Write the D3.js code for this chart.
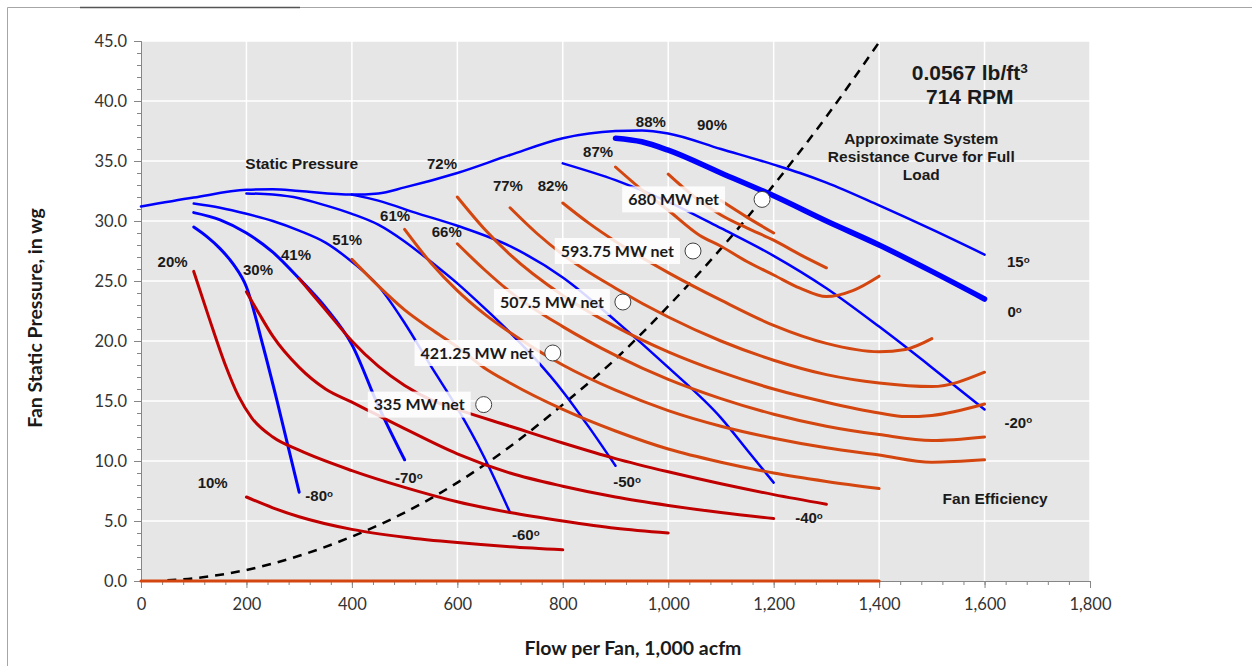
<!DOCTYPE html>
<html>
<head>
<meta charset="utf-8">
<script src="https://cdn.jsdelivr.net/npm/d3@7/dist/d3.min.js"></script>
<style>
body { margin: 0; background: #fff; }
</style>
</head>
<body>
<script>
// axis ticks
var xTickValues = [0, 200, 400, 600, 800, 1000, 1200, 1400, 1600, 1800];
var yTickValues = [0, 5, 10, 15, 20, 25, 30, 35, 40, 45];

// blade angle curves: [flow 1,000 acfm, static pressure in wg]
var blade15 = [[0,31.2],[100,31.95],[200,32.6],[250,32.65],[300,32.5],[400,32.2],[450,32.3],[500,32.8],[600,34.0],[700,35.5],[800,36.9],[900,37.5],[950,37.55],[1000,37.3],[1100,36.0],[1200,34.7],[1250,34.0],[1300,33.2],[1400,31.3],[1500,29.3],[1600,27.2]];
var blade0 = [[900,36.9],[950,36.6],[1000,35.9],[1100,34.0],[1200,32.1],[1300,30.0],[1400,28.0],[1500,25.8],[1600,23.5]];
var bladeM20 = [[800,34.8],[900,33.4],[1000,31.6],[1100,29.4],[1200,27.1],[1300,24.4],[1400,21.2],[1500,17.8],[1600,14.3]];
var bladeM40 = [[400,32.2],[450,31.7],[520,30.7],[600,29.6],[700,27.9],[800,25.3],[900,21.7],[1000,17.8],[1100,13.6],[1150,10.9],[1200,8.2]];
var bladeM50 = [[200,32.3],[250,32.2],[300,31.9],[350,31.3],[400,30.6],[450,29.7],[500,28.3],[550,26.6],[600,24.8],[650,22.8],[700,20.7],[750,18.4],[800,15.8],[850,12.8],[900,9.6]];
var bladeM60 = [[100,31.45],[150,31.1],[200,30.6],[250,30.0],[300,29.2],[350,28.2],[400,26.6],[450,24.6],[500,21.5],[550,17.9],[600,14.4],[650,10.4],[700,5.7]];
var bladeM70 = [[100,30.7],[150,30.1],[200,29.0],[250,27.4],[300,25.2],[350,22.8],[400,19.7],[450,14.6],[500,10.1]];
var bladeM80 = [[100,29.5],[125,28.7],[150,27.7],[175,26.4],[200,24.5],[232,19.5],[257,15.2],[300,7.4]];

// fan efficiency curves
var eff10 = [[200,7.0],[250,6.1],[300,5.35],[400,4.3],[500,3.65],[600,3.2],[700,2.85],[800,2.6]];
var eff20 = [[100,25.8],[130,21.8],[160,18.0],[185,15.4],[210,13.6],[250,12.0],[300,10.9],[400,9.2],[500,7.8],[600,6.6],[700,5.7],[800,5.0],[900,4.4],[1000,4.0]];
var eff30 = [[200,24.1],[225,22.2],[250,20.4],[300,17.8],[350,16.0],[400,14.9],[450,13.8],[500,12.7],[600,10.6],[700,9.0],[800,7.9],[900,7.0],[1000,6.3],[1100,5.7],[1200,5.2]];
var eff41 = [[300,25.2],[350,22.6],[400,20.0],[450,17.9],[500,16.3],[550,15.1],[600,14.3],[700,12.9],[800,11.5],[900,10.2],[1000,9.1],[1100,8.1],[1200,7.2],[1300,6.4]];
var eff51 = [[400,26.8],[450,24.6],[500,22.6],[550,21.0],[600,19.5],[650,17.8],[700,16.5],[800,14.3],[900,12.5],[1000,11.0],[1100,9.9],[1200,9.0],[1300,8.3],[1400,7.7]];
var eff61 = [[500,29.3],[550,26.5],[600,24.2],[650,22.3],[700,20.7],[800,18.0],[900,15.9],[1000,14.2],[1100,12.9],[1200,11.9],[1300,11.1],[1400,10.5],[1500,9.9],[1600,10.1]];
var eff66 = [[600,28.1],[650,26.0],[700,24.1],[800,21.2],[900,18.8],[1000,16.8],[1100,15.2],[1200,13.9],[1300,12.9],[1400,12.2],[1500,11.7],[1600,12.0]];
var eff72 = [[600,32.0],[650,29.4],[700,27.2],[800,23.8],[900,21.2],[1000,19.1],[1100,17.4],[1200,16.0],[1300,14.9],[1400,14.0],[1450,13.7],[1500,13.8],[1600,14.75]];
var eff77 = [[700,31.1],[750,29.0],[800,27.2],[900,24.4],[1000,22.0],[1100,20.0],[1200,18.4],[1300,17.2],[1400,16.5],[1500,16.2],[1600,17.4]];
var eff82 = [[800,31.5],[850,29.8],[900,28.3],[1000,25.7],[1100,23.4],[1200,21.3],[1300,19.8],[1400,19.1],[1450,19.3],[1500,20.2]];
var eff87 = [[900,34.5],[950,32.6],[1000,30.9],[1060,28.8],[1100,27.9],[1150,26.6],[1200,25.5],[1250,24.4],[1300,23.7],[1350,24.2],[1400,25.4]];
var eff88 = [[1000,33.9],[1050,32.0],[1100,30.5],[1150,29.4],[1200,28.4],[1250,27.2],[1300,26.1]];
var eff90 = [[1100,31.7],[1150,30.3],[1200,29.0]];
var effZero = [[0,0],[1400,0]];

// approximate system resistance curve for full load
var systemCurve = [[50,0.06],[100,0.23],[200,0.92],[300,2.1],[400,3.7],[500,5.7],[600,8.2],[700,11.2],[800,14.7],[900,18.5],[1000,22.9],[1100,27.7],[1200,33.0],[1300,38.7],[1400,44.9]];

// operating points
var loadNames = ["335 MW net", "421.25 MW net", "507.5 MW net", "593.75 MW net", "680 MW net"];
var loadFlow = [650, 781, 914, 1047, 1178];
var loadPressure = [14.7, 19.0, 23.25, 27.5, 31.8];

var width = 1252, height = 666;

var svg = d3.select("body").append("svg")
    .attr("width", width)
    .attr("height", height);

// outer frame
svg.append("path")
    .attr("d", "M7.5,666V7.5H1252")
    .attr("fill", "none")
    .attr("stroke", "#a6a6a6");
svg.append("line")
    .attr("x1", 80).attr("x2", 300).attr("y1", 7.5).attr("y2", 7.5)
    .attr("stroke", "#555").attr("stroke-width", 1.5);

var x = d3.scaleLinear().domain([0, 1800]).range([141, 1090]);
var y = d3.scaleLinear().domain([0, 45]).range([581, 41]);

// plot area
svg.append("rect")
    .attr("x", x(0)).attr("y", y(45))
    .attr("width", x(1800) - x(0)).attr("height", y(0) - y(45))
    .attr("fill", "#e6e6e6");

// gridlines
svg.append("g").selectAll("line").data(xTickValues.slice(1)).enter().append("line")
    .attr("x1", function(d) { return x(d); }).attr("x2", function(d) { return x(d); })
    .attr("y1", y(0)).attr("y2", y(45))
    .attr("stroke", "#fff").attr("stroke-width", 1.5);
svg.append("g").selectAll("line").data(yTickValues.slice(1)).enter().append("line")
    .attr("x1", x(0)).attr("x2", x(1800))
    .attr("y1", function(d) { return y(d); }).attr("y2", function(d) { return y(d); })
    .attr("stroke", "#fff").attr("stroke-width", 1.5);

// axes
function styleAxis(g) {
    g.select(".domain").attr("stroke", "#868686");
    g.selectAll(".tick line").attr("stroke", "#868686");
    g.selectAll(".tick text")
        .attr("fill", "#333")
        .style("font-family", "Lato, 'Open Sans', sans-serif")
        .style("font-size", "16.5px");
}
svg.append("g").attr("transform", "translate(" + x(0) + ",0)")
    .call(d3.axisLeft(y).tickValues(d3.range(0, 46, 1)).tickSize(4).tickFormat(""))
    .call(styleAxis);
svg.append("g").attr("transform", "translate(" + x(0) + ",0)")
    .call(d3.axisLeft(y).tickValues(yTickValues).tickSize(7).tickPadding(7).tickFormat(d3.format(".1f")))
    .call(styleAxis);
svg.append("g").attr("transform", "translate(0," + y(0) + ")")
    .call(d3.axisBottom(x).tickValues(d3.range(0, 1801, 40)).tickSize(4).tickFormat(""))
    .call(styleAxis);
svg.append("g").attr("transform", "translate(0," + y(0) + ")")
    .call(d3.axisBottom(x).tickValues(xTickValues).tickSize(7).tickPadding(10).tickFormat(d3.format(",")))
    .call(styleAxis);

// axis titles
svg.append("text")
    .attr("transform", "translate(42,318) rotate(-90)")
    .attr("text-anchor", "middle")
    .style("font-family", "Lato, sans-serif").style("font-size", "19.5px").style("font-weight", "bold")
    .attr("fill", "#1a1a1a")
    .text("Fan Static Pressure, in wg");
svg.append("text")
    .attr("x", 633).attr("y", 655)
    .attr("text-anchor", "middle")
    .style("font-family", "Lato, sans-serif").style("font-size", "19.5px").style("font-weight", "bold")
    .attr("fill", "#1a1a1a")
    .text("Flow per Fan, 1,000 acfm");

var line = d3.line()
    .x(function(d) { return x(d[0]); })
    .y(function(d) { return y(d[1]); })
    .curve(d3.curveMonotoneX);

var blue = "#0000ff", darkRed = "#c00000", orange = "#d4460f";

// system resistance curve
svg.append("path")
    .datum(systemCurve)
    .attr("d", line)
    .attr("fill", "none")
    .attr("stroke", "#000")
    .attr("stroke-width", 2.5)
    .attr("stroke-dasharray", "9,7");

var bladeCurves = [
    {data: blade15, w: 2.5}, {data: blade0, w: 5.5}, {data: bladeM20, w: 2.5},
    {data: bladeM40, w: 2.5}, {data: bladeM50, w: 2.5}, {data: bladeM60, w: 2.5},
    {data: bladeM70, w: 3}, {data: bladeM80, w: 3}
];
svg.append("g").selectAll("path").data(bladeCurves).enter().append("path")
    .attr("d", function(d) { return line(d.data); })
    .attr("fill", "none")
    .attr("stroke", blue)
    .attr("stroke-width", function(d) { return d.w; })
    .attr("stroke-linecap", "round");

var effCurves = [
    {data: eff10, c: darkRed}, {data: eff20, c: darkRed}, {data: eff30, c: darkRed},
    {data: eff41, c: darkRed}, {data: eff51, c: orange}, {data: eff61, c: orange},
    {data: eff66, c: orange}, {data: eff72, c: orange}, {data: eff77, c: orange},
    {data: eff82, c: orange}, {data: eff87, c: orange}, {data: eff88, c: orange},
    {data: eff90, c: orange}, {data: effZero, c: orange}
];
svg.append("g").selectAll("path").data(effCurves).enter().append("path")
    .attr("d", function(d) { return line(d.data); })
    .attr("fill", "none")
    .attr("stroke", function(d) { return d.c; })
    .attr("stroke-width", 3)
    .attr("stroke-linecap", "round");

// annotation text (anchored in data units)
function note(txt, dx, dy, size, sup) {
    var t = svg.append("text")
        .attr("x", x(dx)).attr("y", y(dy))
        .attr("dy", "0.35em")
        .attr("text-anchor", "middle")
        .attr("fill", "#1a1a1a")
        .style("font-family", "'Liberation Sans', Arial, sans-serif")
        .style("font-weight", "bold")
        .style("font-size", size + "px");
    t.append("tspan").text(txt);
    if (sup) {
        t.append("tspan").attr("dy", "-0.45em").style("font-size", (size * 0.65) + "px").text(sup);
    }
    return t;
}

var pctLabels = [
    ["10%", 136, 8.2], ["20%", 60, 26.6], ["30%", 222, 25.9], ["41%", 294, 27.2],
    ["51%", 391, 28.4], ["61%", 482, 30.4], ["66%", 580, 29.1], ["72%", 571, 34.8],
    ["77%", 696, 32.9], ["82%", 781, 32.9], ["87%", 867, 35.75], ["88%", 967, 38.25],
    ["90%", 1083, 38.0]
];
pctLabels.forEach(function(p) { note(p[0], p[1], p[2], 15); });

var angleLabels = [
    ["-80", 338, 7.1], ["-70", 508, 8.6], ["-60", 730, 3.85], ["-50", 922, 8.25],
    ["-40", 1267, 5.25], ["-20", 1664, 13.2], ["0", 1657, 22.4], ["15", 1664, 26.6]
];
angleLabels.forEach(function(p) { note(p[0], p[1], p[2], 15, "o"); });

note("Static Pressure", 305, 34.8, 15.5);
note("Fan Efficiency", 1620, 6.83, 15.5);
note("Approximate System", 1480, 36.9, 15.5);
note("Resistance Curve for Full", 1480, 35.4, 15.5);
note("Load", 1480, 33.9, 15.5);
note("0.0567 lb/ft", 1572, 42.4, 21, "3");
note("714 RPM", 1572, 40.4, 21);

// operating point labels and markers (top label sits further left)
var labelGap = [19, 19, 19, 19, 43];
var pts = svg.append("g").selectAll("g").data(loadNames).enter().append("g");
pts.each(function(name, i) {
    var g = d3.select(this);
    var cx = x(loadFlow[i]), cy = y(loadPressure[i]);
    var rect = g.append("rect").attr("fill", "#fff").attr("fill-opacity", 0.85);
    var t = g.append("text")
        .attr("x", cx - labelGap[i]).attr("y", cy)
        .attr("dy", "0.36em")
        .attr("text-anchor", "end")
        .attr("fill", "#1a1a1a")
        .style("font-family", "Lato, sans-serif")
        .style("font-weight", "bold")
        .style("font-size", "16px")
        .text(name);
    var w = t.node().getComputedTextLength();
    rect.attr("x", cx - labelGap[i] - w - 6).attr("y", cy - 13)
        .attr("width", w + 12).attr("height", 26);
    g.append("circle")
        .attr("cx", cx).attr("cy", cy).attr("r", 8)
        .attr("fill", "#fff")
        .attr("stroke", "#404040")
        .attr("stroke-width", 1);
});
</script>
</body>
</html>
